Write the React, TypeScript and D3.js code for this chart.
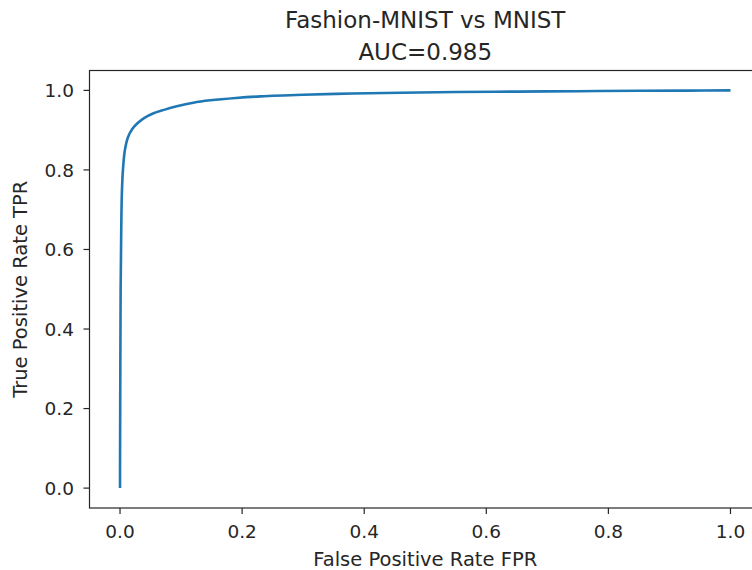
import React, { useEffect, useRef } from "react";
import * as d3 from "d3";

// ROC curve points
const fpr = [0, 0, 0.0005, 0.001, 0.002, 0.003, 0.005, 0.008, 0.013, 0.02, 0.029, 0.04, 0.054, 0.072, 0.093, 0.12, 0.148, 0.19, 0.23, 0.3, 0.38, 0.46, 0.55, 0.65, 0.75, 0.85, 0.93, 1.0];
const tpr = [0, 0.05, 0.3, 0.5, 0.65, 0.74, 0.805, 0.85, 0.882, 0.903, 0.918, 0.931, 0.942, 0.951, 0.96, 0.969, 0.975, 0.981, 0.985, 0.989, 0.992, 0.994, 0.996, 0.997, 0.998, 0.999, 0.9995, 1.0];
const xTicks = [0, 0.2, 0.4, 0.6, 0.8, 1.0];
const yTicks = [0, 0.2, 0.4, 0.6, 0.8, 1.0];
const titleLines = ["Fashion-MNIST vs MNIST", "AUC=0.985"];

const W = 752;
const H = 570;
const FONT = "DejaVu Sans, sans-serif";

export default function App() {
  const ref = useRef<SVGSVGElement>(null);

  useEffect(() => {
    const svg = d3.select(ref.current);
    svg.selectAll("*").remove();

    const left = 89.5;
    const right = 761;
    const top = 70.5;
    const bottom = 508;

    const x = d3.scaleLinear().domain([-0.05, 1.05]).range([left, right]);
    const y = d3.scaleLinear().domain([-0.05, 1.05]).range([bottom, top]);

    svg.append("rect").attr("width", W).attr("height", H).attr("fill", "#fff");

    const pts = fpr.map((f, i) => [f, tpr[i]] as [number, number]);
    const line = d3
      .line<[number, number]>()
      .x((d) => x(d[0]))
      .y((d) => y(d[1]))
      .curve(d3.curveCatmullRom.alpha(0.5));

    svg
      .append("path")
      .datum(pts)
      .attr("d", line)
      .attr("fill", "none")
      .attr("stroke", "#1f77b4")
      .attr("stroke-width", 2.6);

    // frame
    svg
      .append("rect")
      .attr("x", left)
      .attr("y", top)
      .attr("width", right - left)
      .attr("height", bottom - top)
      .attr("fill", "none")
      .attr("stroke", "#262626")
      .attr("stroke-width", 1.2);

    // x ticks
    const gx = svg.append("g");
    xTicks.forEach((t) => {
      gx.append("line")
        .attr("x1", x(t))
        .attr("x2", x(t))
        .attr("y1", bottom)
        .attr("y2", bottom + 6)
        .attr("stroke", "#262626")
        .attr("stroke-width", 1.2);
      gx.append("text")
        .attr("x", x(t))
        .attr("y", 538)
        .attr("text-anchor", "middle")
        .style("font-family", FONT)
        .style("font-size", "18.5px")
        .attr("fill", "#262626")
        .text(t.toFixed(1));
    });

    // y ticks
    const gy = svg.append("g");
    yTicks.forEach((t) => {
      gy.append("line")
        .attr("x1", left - 6)
        .attr("x2", left)
        .attr("y1", y(t))
        .attr("y2", y(t))
        .attr("stroke", "#262626")
        .attr("stroke-width", 1.2);
      gy.append("text")
        .attr("x", 74)
        .attr("y", y(t))
        .attr("dy", "0.36em")
        .attr("text-anchor", "end")
        .style("font-family", FONT)
        .style("font-size", "18.5px")
        .attr("fill", "#262626")
        .text(t.toFixed(1));
    });

    svg
      .append("text")
      .attr("x", (left + right) / 2)
      .attr("y", 566)
      .attr("text-anchor", "middle")
      .style("font-family", FONT)
      .style("font-size", "19.5px")
      .attr("fill", "#262626")
      .text("False Positive Rate FPR");

    svg
      .append("text")
      .attr("transform", `translate(27,${(top + bottom) / 2}) rotate(-90)`)
      .attr("text-anchor", "middle")
      .style("font-family", FONT)
      .style("font-size", "19.5px")
      .attr("fill", "#262626")
      .text("True Positive Rate TPR");

    titleLines.forEach((s, i) => {
      svg
        .append("text")
        .attr("x", (left + right) / 2)
        .attr("y", 28 + i * 32)
        .attr("text-anchor", "middle")
        .style("font-family", FONT)
        .style("font-size", "23px")
        .attr("fill", "#262626")
        .text(s);
    });
  }, []);

  return (
    <svg
      ref={ref}
      width={W}
      height={H}
      style={{ position: "absolute", left: 0, top: 0 }}
    />
  );
}
